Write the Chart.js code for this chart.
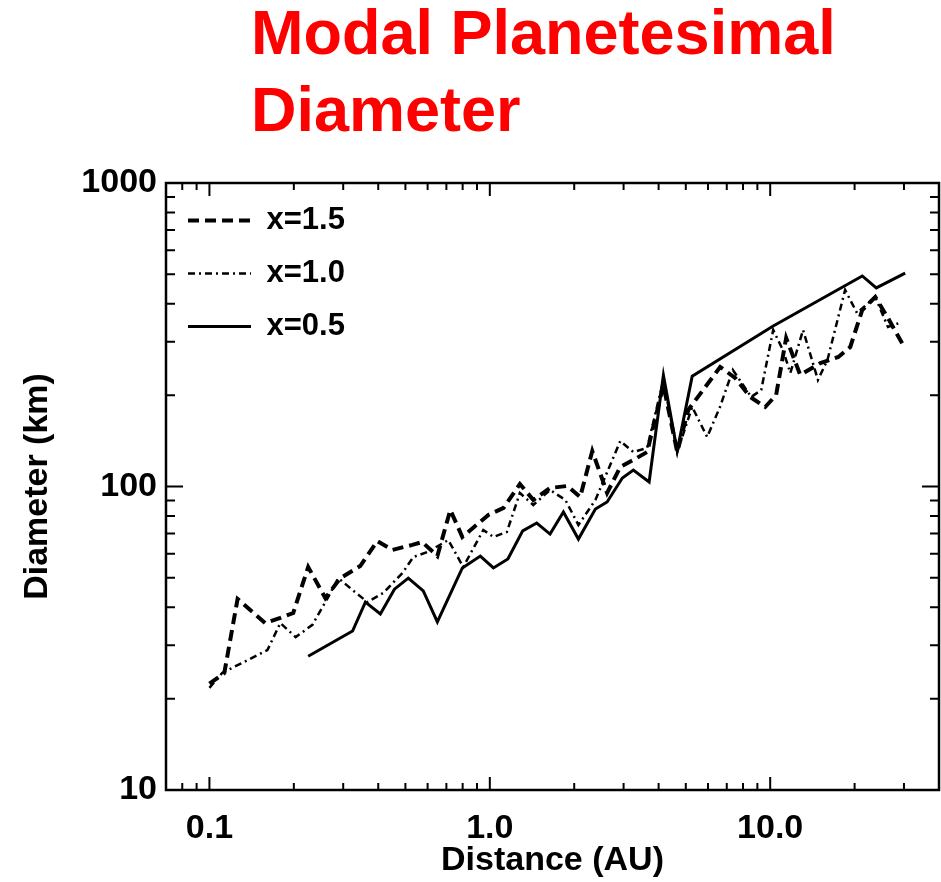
<!DOCTYPE html>
<html>
<head>
<meta charset="utf-8">
<script src="https://cdn.jsdelivr.net/npm/chart.js@4.4.1/dist/chart.umd.min.js"></script>
<style>
  body { margin: 0; background: #fff; }
  #wrap { position: relative; width: 941px; height: 882px; }
  #title {
    position: absolute; left: 251px; top: -6px;
    font: bold 63px "Liberation Sans", Arial, sans-serif;
    line-height: 77px; color: #ff0000; white-space: nowrap;
  }
</style>
</head>
<body>
<div id="wrap">
  <canvas id="sizeChart" width="941" height="882"></canvas>
  <div id="title">Modal Planetesimal<br>Diameter</div>
</div>
<script>
// x=1.5 (dashed)
const distDashed = [0.100, 0.113, 0.126, 0.158, 0.179, 0.199, 0.225, 0.259, 0.293, 0.345, 0.397, 0.449, 0.529, 0.574, 0.650, 0.723, 0.798, 0.988, 1.12, 1.28, 1.43, 1.64, 1.89, 2.10, 2.32, 2.62, 2.92, 3.25, 3.64, 4.16, 4.66, 5.10, 6.63, 7.50, 8.49, 9.60, 10.5, 11.4, 12.8, 15.1, 17.5, 19.3, 21.3, 23.7, 26.3, 29.8];
const diamDashed = [22.4, 24.3, 42.6, 35.5, 36.9, 38.3, 54.3, 42.9, 49.9, 54.7, 66.1, 61.8, 64.2, 65.6, 59.0, 83.7, 68.2, 80.6, 85.0, 101.9, 90.3, 98.9, 100.4, 92.3, 130.9, 95.2, 116.0, 122.3, 129.9, 216, 129.9, 178.7, 247.6, 227.9, 197.2, 182.8, 200.2, 308.6, 233, 255.2, 267.1, 288.2, 381.6, 421.1, 359.1, 292.6];

// x=1.0 (dash-dot)
const distDashDot = [0.100, 0.111, 0.161, 0.179, 0.203, 0.233, 0.264, 0.288, 0.324, 0.366, 0.417, 0.488, 0.534, 0.599, 0.711, 0.804, 0.948, 1.03, 1.15, 1.28, 1.43, 1.64, 1.86, 2.07, 2.38, 2.92, 3.25, 3.64, 4.16, 4.66, 5.27, 5.96, 6.62, 7.36, 8.56, 9.29, 10.25, 11.1, 11.8, 13.1, 14.8, 16.0, 18.5, 20.4, 23.7, 26.3, 29.5];
const diamDashDot = [21.7, 24.3, 28.9, 35.5, 31.9, 35.0, 42.9, 49.9, 45.6, 41.6, 44.6, 51.9, 58.6, 60.8, 66.6, 54.3, 71.9, 68.2, 70.8, 95.2, 86.9, 97.4, 90.3, 74.7, 90.3, 141.2, 129.9, 134.0, 224, 129.9, 182.8, 145.6, 182.8, 242.1, 197.2, 208.0, 327.9, 281.7, 236.6, 327.9, 224.3, 261.1, 444.2, 372.9, 421.1, 335.4, 348.3];

// x=0.5 (solid)
const distSolid = [0.225, 0.324, 0.360, 0.407, 0.457, 0.512, 0.579, 0.650, 0.798, 0.925, 1.03, 1.16, 1.31, 1.47, 1.64, 1.83, 2.07, 2.38, 2.62, 2.97, 3.25, 3.70, 4.16, 4.66, 5.27, 10.25, 21.3, 23.9, 30.3];
const diamSolid = [27.6, 33.4, 41.6, 38.0, 45.9, 49.9, 45.3, 35.8, 53.9, 59.0, 53.9, 57.7, 71.4, 75.8, 69.7, 82.4, 67.1, 84.3, 88.9, 106.7, 113.3, 103.5, 233, 131, 231, 338, 494, 451, 505];

// axis ticks
const xTicks = [0.07, 0.08, 0.09, 0.1, 0.2, 0.3, 0.4, 0.5, 0.6, 0.7, 0.8, 0.9, 1, 2, 3, 4, 5, 6, 7, 8, 9, 10, 20, 30, 40];
const xMajor = [0.1, 1, 10];
const xMajorLabels = ['0.1', '1.0', '10.0'];
const yTicks = [10, 20, 30, 40, 50, 60, 70, 80, 90, 100, 200, 300, 400, 500, 600, 700, 800, 900, 1000];
const yMajor = [10, 100, 1000];
const yMajorLabels = ['10', '100', '1000'];

const pairs = (xs, ys) => xs.map((v, i) => ({ x: v, y: ys[i] }));

Chart.defaults.font.family = '"Liberation Sans", Arial, sans-serif';
Chart.defaults.color = '#000';

// box round the plot with inward tick marks on all four sides
const frameTicks = {
    id: 'frameTicks',
    afterLayout(chart) {
        // keep the legend inside the plot box, top left
        const lg = chart.legend, a = chart.chartArea;
        if (lg) { lg.left = a.left; lg.right = a.right; lg.top = a.top; lg.bottom = a.bottom; }
    },
    afterDatasetsDraw(chart) {
        const { ctx, chartArea: a, scales: { x, y } } = chart;
        ctx.save();
        ctx.strokeStyle = '#000';
        ctx.lineWidth = 2.5;
        ctx.strokeRect(a.left, a.top, a.right - a.left, a.bottom - a.top);
        ctx.lineWidth = 2;
        ctx.beginPath();
        xTicks.forEach(v => {
            const px = x.getPixelForValue(v);
            const len = xMajor.includes(v) ? 13 : 7;
            ctx.moveTo(px, a.bottom); ctx.lineTo(px, a.bottom - len);
            ctx.moveTo(px, a.top); ctx.lineTo(px, a.top + len);
        });
        yTicks.forEach(v => {
            const py = y.getPixelForValue(v);
            const len = yMajor.includes(v) ? 17 : 9;
            ctx.moveTo(a.left, py); ctx.lineTo(a.left + len, py);
            ctx.moveTo(a.right, py); ctx.lineTo(a.right - len, py);
        });
        ctx.stroke();
        ctx.restore();
    }
};

new Chart(document.getElementById('sizeChart'), {
    type: 'line',
    data: {
        datasets: [{
            label: 'x=1.5',
            data: pairs(distDashed, diamDashed),
            borderColor: '#000',
            borderWidth: 4,
            borderDash: [11, 6]
        }, {
            label: 'x=1.0',
            data: pairs(distDashDot, diamDashDot),
            borderColor: '#000',
            borderWidth: 2.5,
            borderDash: [7, 4, 2, 4]
        }, {
            label: 'x=0.5',
            data: pairs(distSolid, diamSolid),
            borderColor: '#000',
            borderWidth: 3
        }]
    },
    options: {
        responsive: false,
        animation: false,
        layout: { padding: { top: 183, right: 2, left: 0, bottom: 0 } },
        elements: { point: { radius: 0 }, line: { tension: 0 } },
        plugins: {
            tooltip: { enabled: false },
            legend: {
                position: 'chartArea',
                align: 'start',
                labels: {
                    usePointStyle: true,
                    pointStyleWidth: 63,
                    padding: 22,
                    font: { size: 31, weight: 'bold' },
                    generateLabels: chart => chart.data.datasets.map((ds, i) => ({
                        text: ds.label,
                        fillStyle: ds.borderColor,
                        strokeStyle: ds.borderColor,
                        lineWidth: ds.borderWidth,
                        lineDash: ds.borderDash || [],
                        pointStyle: 'line',
                        fontColor: '#000',
                        datasetIndex: i
                    }))
                }
            }
        },
        scales: {
            x: {
                type: 'logarithmic',
                min: 0.07,
                max: 40,
                grid: { display: false, drawTicks: false },
                border: { display: false },
                afterBuildTicks: s => { s.ticks = xTicks.map(v => ({ value: v })); },
                afterFit: s => { s.height = 92; s.paddingLeft = 0; s.paddingRight = 0; },
                ticks: {
                    autoSkip: false,
                    maxRotation: 0,
                    padding: 18,
                    font: { size: 34, weight: 'bold' },
                    callback: v => {
                        const k = xMajor.indexOf(v);
                        return k >= 0 ? xMajorLabels[k] : '';
                    }
                },
                title: {
                    display: true,
                    text: 'Distance (AU)',
                    font: { size: 34, weight: 'bold' },
                    padding: { top: 0, bottom: 1 }
                }
            },
            y: {
                type: 'logarithmic',
                min: 10,
                max: 1000,
                grid: { display: false, drawTicks: false },
                border: { display: false },
                afterBuildTicks: s => { s.ticks = yTicks.map(v => ({ value: v })); },
                afterFit: s => { s.width = 166; s.paddingTop = 0; s.paddingBottom = 0; },
                ticks: {
                    autoSkip: false,
                    padding: 9,
                    font: { size: 34, weight: 'bold' },
                    callback: v => {
                        const k = yMajor.indexOf(v);
                        return k >= 0 ? yMajorLabels[k] : '';
                    }
                },
                title: {
                    display: true,
                    text: 'Diameter (km)',
                    font: { size: 34, weight: 'bold' },
                    padding: { top: 17, bottom: 0 }
                }
            }
        }
    },
    plugins: [frameTicks]
});
</script>
</body>
</html>
